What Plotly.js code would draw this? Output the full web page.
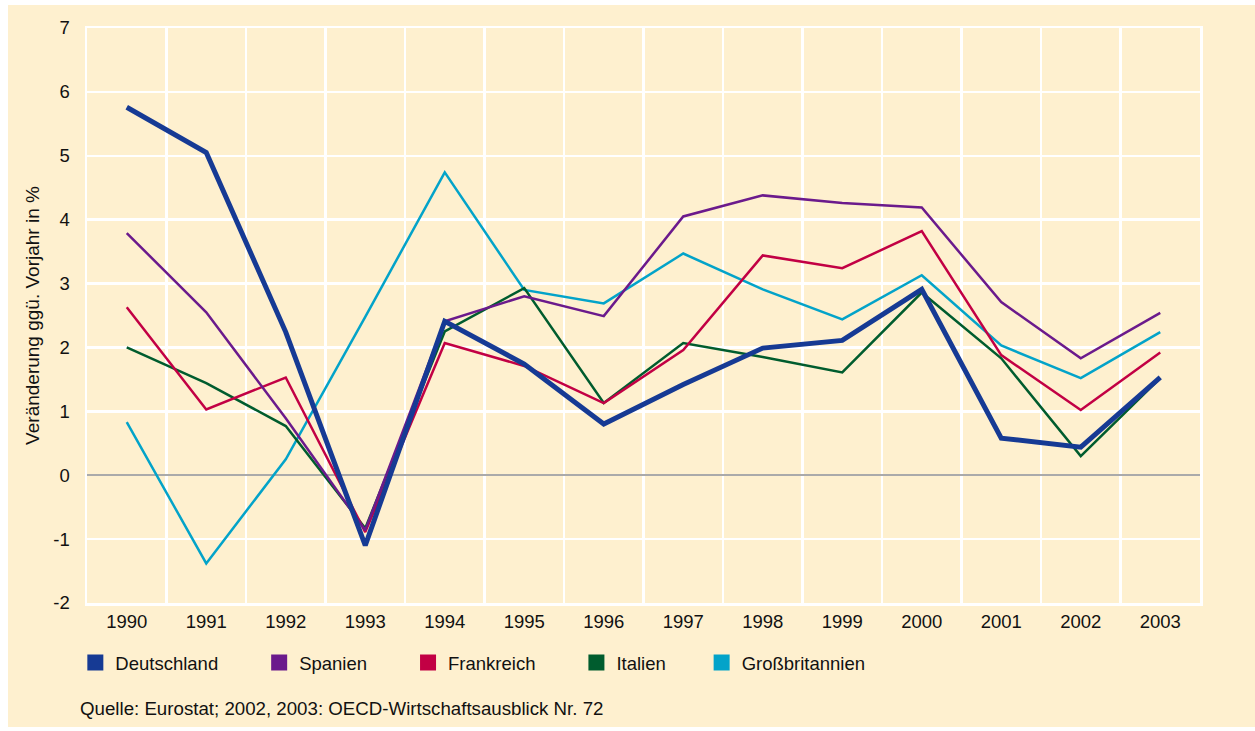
<!DOCTYPE html>
<html>
<head>
<meta charset="utf-8">
<script src="https://cdn.plot.ly/plotly-3.0.1.min.js"></script>
<style>
  html, body { margin: 0; padding: 0; background: #ffffff; }
  #chart { position: absolute; left: 8px; top: 5px; width: 1247px; height: 722px; }
</style>
</head>
<body>
<div id="chart"></div>
<script>
const years = ["1990","1991","1992","1993","1994","1995","1996","1997","1998","1999","2000","2001","2002","2003"];
const deutschland    = [5.76, 5.05, 2.24, -1.10, 2.41, 1.74, 0.80, 1.42, 1.99, 2.11, 2.91, 0.58, 0.44, 1.53];
const spanien        = [3.79, 2.55, 0.89, -0.86, 2.41, 2.80, 2.49, 4.05, 4.38, 4.26, 4.19, 2.71, 1.83, 2.54];
const frankreich     = [2.63, 1.03, 1.53, -0.89, 2.07, 1.71, 1.13, 1.96, 3.44, 3.24, 3.82, 1.88, 1.02, 1.92];
const italien        = [2.00, 1.44, 0.77, -0.83, 2.25, 2.93, 1.13, 2.07, 1.85, 1.61, 2.86, 1.83, 0.30, 1.52];
const grossbritannien= [0.83, -1.38, 0.25, 2.48, 4.74, 2.90, 2.69, 3.47, 2.91, 2.44, 3.13, 2.03, 1.52, 2.24];
const yTicks = [-2, -1, 0, 1, 2, 3, 4, 5, 6, 7];
const seriesNames = ["Deutschland", "Spanien", "Frankreich", "Italien", "Großbritannien"];
const sourceText = "Quelle: Eurostat; 2002, 2003: OECD-Wirtschaftsausblick Nr. 72";
const yTitle = "Veränderung ggü. Vorjahr in %";

const NB = "\u00a0";
const series = [
  {name: seriesNames[0], values: deutschland, color: "#163a94", width: 5, pad: 7},
  {name: seriesNames[1], values: spanien, color: "#6b1a8c", width: 2.5, pad: 7},
  {name: seriesNames[2], values: frankreich, color: "#c20044", width: 2.5, pad: 7},
  {name: seriesNames[3], values: italien, color: "#005c2e", width: 2.5, pad: 6},
  {name: seriesNames[4], values: grossbritannien, color: "#03a3c9", width: 2.5, pad: 0}
];

const traces = [];
[4,3,2,1,0].forEach(i => {
  const s = series[i];
  traces.push({
    type: "scatter", mode: "lines", x: years, y: s.values, name: s.name,
    line: {color: s.color, width: s.width}, showlegend: false
  });
});
series.forEach(s => {
  traces.push({
    type: "scatter", mode: "markers", x: [null], y: [null], name: s.name + NB.repeat(s.pad),
    marker: {symbol: "square", size: 16, color: s.color}, showlegend: true
  });
});

const F = "Liberation Sans, Arial, sans-serif";
const layout = {
  width: 1247, height: 722,
  paper_bgcolor: "#fef0cf",
  plot_bgcolor: "#fef0cf",
  margin: {l: 79, r: 55, t: 23, b: 124, pad: 0},
  font: {family: F, size: 18.5, color: "#111111"},
  xaxis: {
    type: "category",
    tickson: "boundaries",
    showgrid: true, gridcolor: "#ffffff", gridwidth: 2.5,
    showline: true, linecolor: "#ffffff", linewidth: 2.5, mirror: true,
    zeroline: false, ticks: "",
    ticklabelstandoff: 0,
    tickfont: {size: 18.5},
    range: [-0.5, 13.5]
  },
  yaxis: {
    range: [-2, 7], tickvals: yTicks, ticktext: yTicks.map(String),
    showgrid: true, gridcolor: "#ffffff", gridwidth: 2.5,
    showline: true, linecolor: "#ffffff", linewidth: 2.5, mirror: true,
    zeroline: true, zerolinecolor: "#aaaaaa", zerolinewidth: 2,
    ticks: "", ticklabelstandoff: 11,
    tickfont: {size: 18.5},
    title: {text: yTitle, font: {size: 19}, standoff: 9}
  },
  legend: {
    orientation: "h", xref: "container", yref: "container",
    x: 0.054, y: 0.0886, xanchor: "left", yanchor: "middle",
    bgcolor: "rgba(0,0,0,0)", font: {size: 18.5},
    traceorder: "normal"
  },
  annotations: [{
    xref: "paper", yref: "paper", x: -0.0081, y: -0.1843,
    xanchor: "left", yanchor: "middle", showarrow: false,
    text: sourceText,
    font: {size: 18.7}
  }],
  showlegend: true
};

Plotly.newPlot("chart", traces, layout, {displayModeBar: false, staticPlot: true});
</script>
</body>
</html>
